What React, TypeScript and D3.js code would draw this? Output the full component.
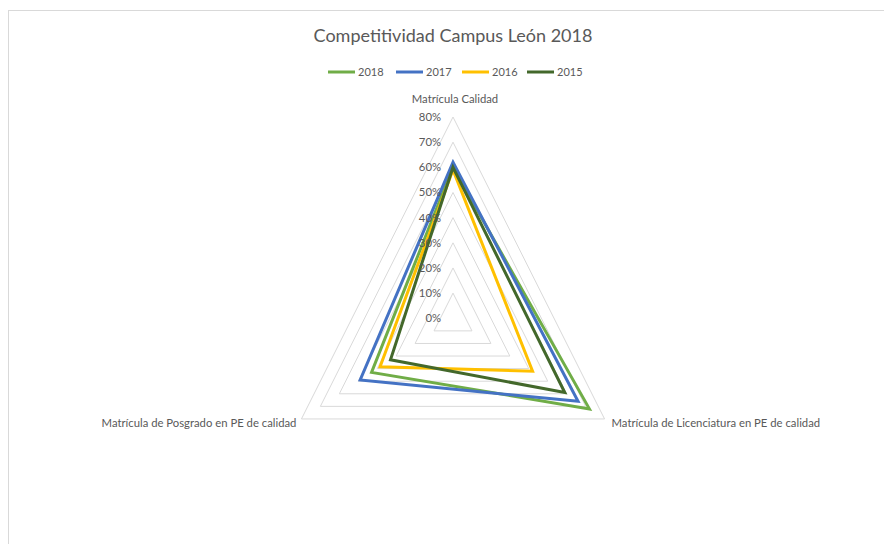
import React from "react";
import * as d3 from "d3";

const axes = [
  "Matrícula Calidad",
  "Matrícula de Licenciatura en PE de calidad",
  "Matrícula de Posgrado en PE de calidad",
];
const seriesNames = ["2018", "2017", "2016", "2015"];
const values2018 = [0.6, 0.72, 0.43];
const values2017 = [0.62, 0.66, 0.49];
const values2016 = [0.59, 0.42, 0.385];
const values2015 = [0.6, 0.59, 0.33];
const seriesColors = ["#70ad47", "#4472c4", "#ffc000", "#43682b"];
const ticks = [0, 0.1, 0.2, 0.3, 0.4, 0.5, 0.6, 0.7, 0.8];

const W = 884;
const H = 544;
const cx = 453;
const cy = 318.3;
const font = "Lato, 'Open Sans', sans-serif";
const textColor = "#595959";

export default function App() {
  const seriesValues = [values2018, values2017, values2016, values2015];
  const rX = d3.scaleLinear().domain([0, 0.8]).range([0, 175]);
  const rY = d3.scaleLinear().domain([0, 0.8]).range([0, 201.3]);
  const ang = d3
    .scaleLinear()
    .domain([0, axes.length])
    .range([0, 2 * Math.PI]);
  const pt = (v: number, i: number): [number, number] => [
    cx + rX(v) * Math.sin(ang(i)),
    cy - rY(v) * Math.cos(ang(i)),
  ];
  const closed = d3.line().curve(d3.curveLinearClosed);

  const fmt = d3.format(".0%");

  const legendX = [328, 396, 462, 527];

  return (
    <svg
      width={W}
      height={H}
      style={{ position: "absolute", left: 0, top: 0, background: "#fff" }}
    >
      <rect x={8.5} y={10.5} width={W} height={H} fill="#fff" stroke="#d9d9d9" />
      <text
        x={cx}
        y={42}
        textAnchor="middle"
        fontFamily={font}
        fontSize={18}
        fill={textColor}
      >
        Competitividad Campus León 2018
      </text>
      {seriesNames.map((s, i) => (
        <g key={s}>
          <line
            x1={legendX[i]}
            x2={legendX[i] + 27}
            y1={72}
            y2={72}
            stroke={seriesColors[i]}
            strokeWidth={3}
          />
          <text
            x={legendX[i] + 30}
            y={76}
            fontFamily={font}
            fontSize={11}
            fill={textColor}
          >
            {s}
          </text>
        </g>
      ))}
      {ticks
        .filter((t) => t > 0)
        .map((t) => (
          <path
            key={t}
            d={closed(axes.map((_, i) => pt(t, i))) || ""}
            fill="none"
            stroke="#d9d9d9"
            strokeWidth={1}
          />
        ))}
      {seriesValues.map((vals, si) => (
        <path
          key={si}
          d={closed(vals.map((v, i) => pt(v, i))) || ""}
          fill="none"
          stroke={seriesColors[si]}
          strokeWidth={3}
          strokeLinejoin="miter"
        />
      ))}
      {ticks.map((t) => (
        <text
          key={t}
          x={cx - 12}
          y={cy - rY(t) + 4}
          textAnchor="end"
          fontFamily={font}
          fontSize={11.3}
          fill={textColor}
        >
          {fmt(t)}
        </text>
      ))}
      <text
        x={cx + 2}
        y={103}
        textAnchor="middle"
        fontFamily={font}
        fontSize={11.3}
        fill={textColor}
      >
        {axes[0]}
      </text>
      <text
        x={pt(0.8, 1)[0] + 7}
        y={pt(0.8, 1)[1] + 8}
        textAnchor="start"
        fontFamily={font}
        fontSize={11.3}
        fill={textColor}
      >
        {axes[1]}
      </text>
      <text
        x={pt(0.8, 2)[0] - 5}
        y={pt(0.8, 2)[1] + 8}
        textAnchor="end"
        fontFamily={font}
        fontSize={11.3}
        fill={textColor}
      >
        {axes[2]}
      </text>
    </svg>
  );
}
